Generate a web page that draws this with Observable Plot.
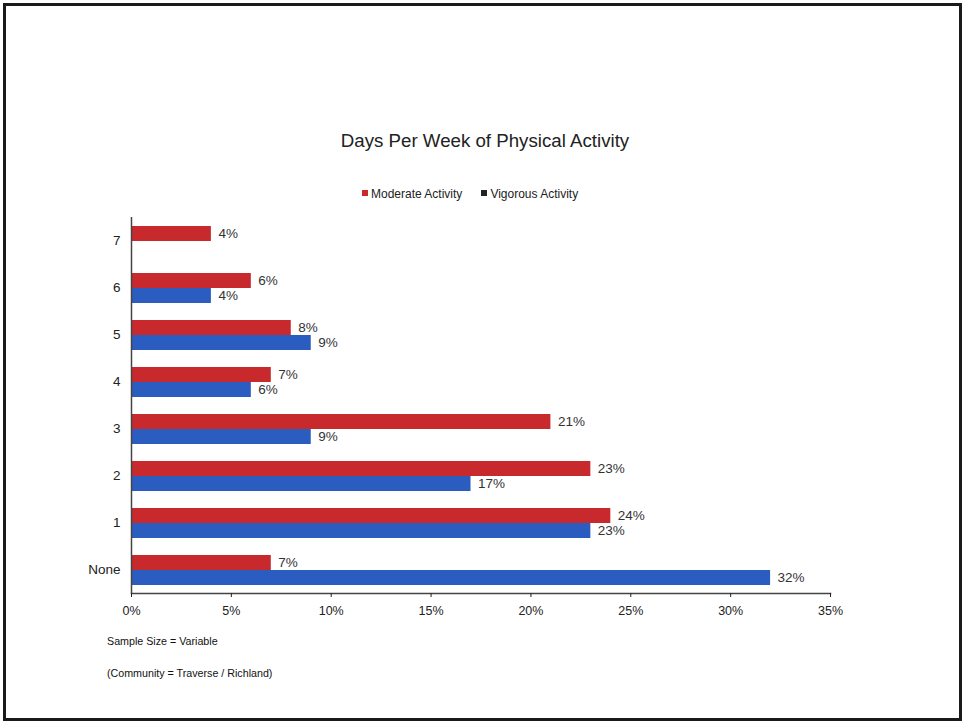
<!DOCTYPE html>
<html><head><meta charset="utf-8">
<script src="https://cdn.jsdelivr.net/npm/d3@7"></script>
<script src="https://cdn.jsdelivr.net/npm/@observablehq/plot@0.6"></script>
<style>
body{margin:0;background:#fff;font-family:"Liberation Sans",Arial,sans-serif;color:#222;width:966px;height:725px;position:relative;overflow:hidden;}
#frame{position:absolute;left:3px;top:3px;width:959px;height:718px;border:3px solid #1a1a1a;box-sizing:border-box;}
#title{position:absolute;left:0;width:970px;top:130px;text-align:center;font-size:18.7px;}
#legend{position:absolute;left:362px;top:187px;font-size:12px;white-space:nowrap;}
#legend span.sw{display:inline-block;width:6px;height:6px;margin-right:3px;vertical-align:2px;}
#legend span.item{margin-right:19px;}
#chart{position:absolute;left:0;top:207px;}
.cap{position:absolute;left:107px;font-size:10.7px;color:#111;}
</style></head>
<body>
<div id="frame"></div>
<div id="title">Days Per Week of Physical Activity</div>
<div id="legend"></div>
<div id="chart"></div>
<div class="cap" style="top:635px">Sample Size = Variable</div>
<div class="cap" style="top:667px">(Community = Traverse / Richland)</div>
<script>
const categories = ["7","6","5","4","3","2","1","None"];
const series = ["Moderate Activity","Vigorous Activity"];
const moderate = [4,6,8,7,21,23,24,7];
const vigorous = [null,4,9,6,9,17,23,32];
const xTicks = [0,5,10,15,20,25,30,35];
const colors = ["#c8292d","#2b5cbf"];
const legendSwatches = ["#c8292d","#222222"];

const data = [];
categories.forEach((c,i)=>{
  if (moderate[i] != null) data.push({cat:c, series:series[0], value:moderate[i]});
  if (vigorous[i] != null) data.push({cat:c, series:series[1], value:vigorous[i]});
});

document.getElementById("legend").innerHTML = series.map((s,i)=>
  `<span class="item"><span class="sw" style="background:${legendSwatches[i]}"></span>${s}</span>`).join("");

const plot = Plot.plot({
  width: 966,
  height: 416,
  marginLeft: 131,
  marginRight: 136,
  marginTop: 10,
  marginBottom: 30,
  style: {fontFamily: "Liberation Sans, Arial, sans-serif", fontSize: "12px", color: "#222"},
  x: {domain: [0,35], label: null},
  y: {domain: series, axis: null, paddingInner: 0, paddingOuter: 0.5},
  fy: {domain: categories, padding: 0, label: null},
  color: {domain: series, range: colors},
  marks: [
    Plot.barX(data, {fy: "cat", y: "series", x: "value", fill: "series"}),
    Plot.text(data, {fy: "cat", y: "series", x: "value", text: d => d.value + "%", dx: 7, textAnchor: "start", fontSize: 13.5, fill: "#333"}),
    Plot.ruleX([0], {stroke: "#444", strokeWidth: 1.5}),
    Plot.frame({anchor: "bottom", facetAnchor: "bottom", stroke: "#444", strokeWidth: 1.5}),
    Plot.axisX({ticks: xTicks, tickFormat: d => d + "%", tickSize: 4, tickPadding: 9, fontSize: 12.5, label: null}),
    Plot.axisFy({anchor: "left", tickSize: 0, tickPadding: 11, fontSize: 13.5, label: null})
  ]
});
document.getElementById("chart").appendChild(plot);
</script>
</body></html>
